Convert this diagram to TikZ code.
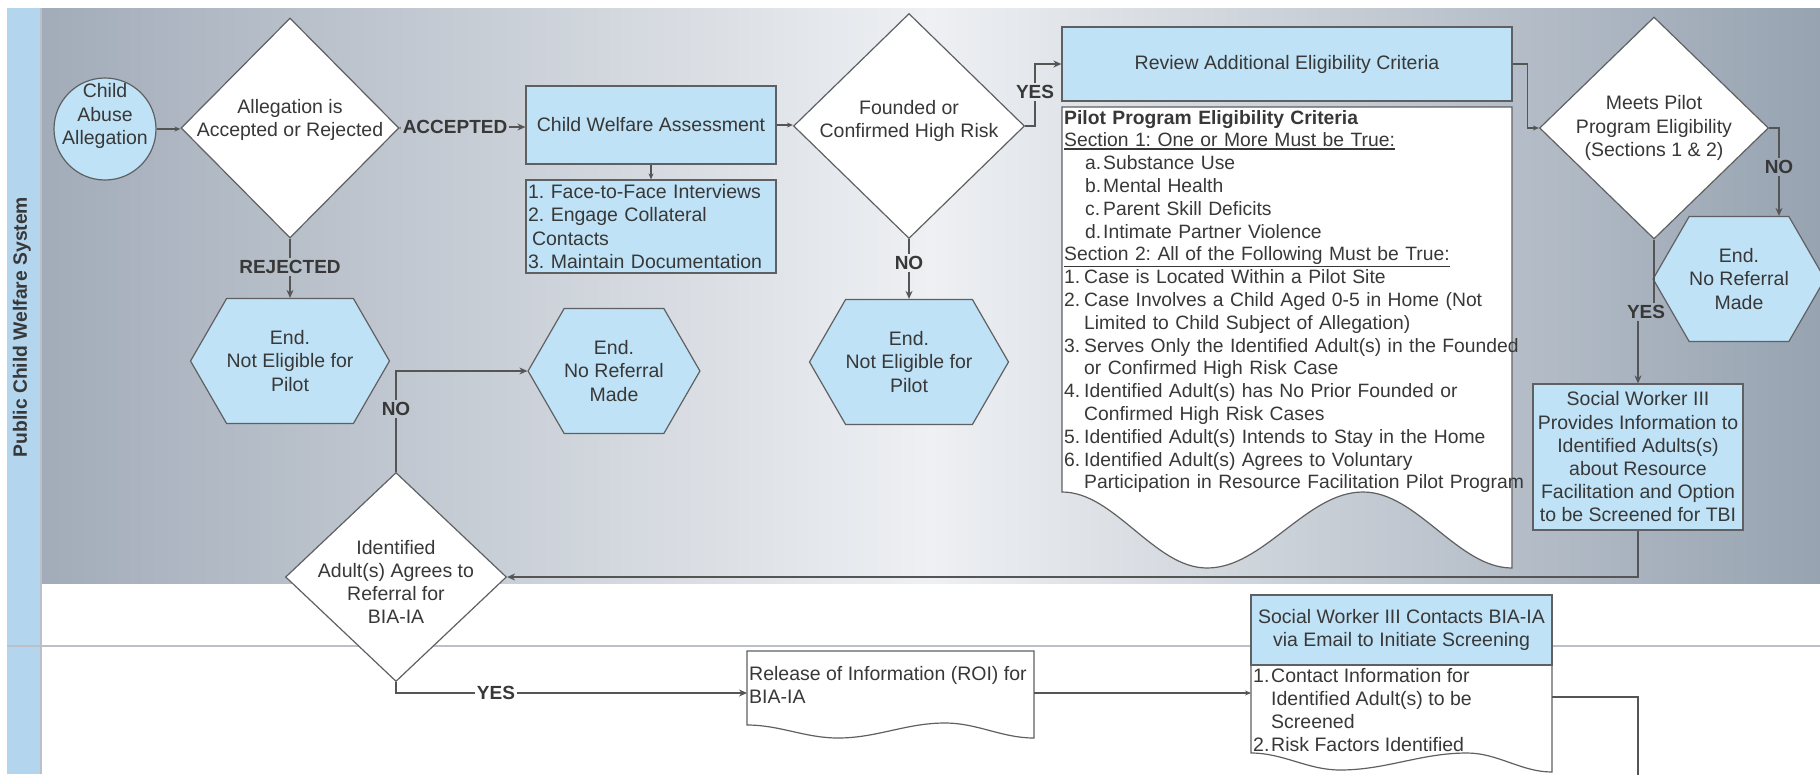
\documentclass[tikz,border=0pt]{standalone}
\usepackage{fontspec}
\setmainfont{Liberation Sans}
\usetikzlibrary{shapes.geometric,shapes.symbols,arrows.meta}
\definecolor{nodeblue}{HTML}{BFE2F6}
\definecolor{laneblue}{HTML}{B3D5EE}
\definecolor{bordercol}{HTML}{5F6062}
\definecolor{linecol}{HTML}{555555}
\definecolor{textcol}{HTML}{383838}
\definecolor{gradL}{HTML}{A2ACB9}
\definecolor{gradM}{HTML}{EEF0F3}
\definecolor{gradR}{HTML}{97A3B1}
\definecolor{divcol}{HTML}{BCC0C6}
\newcommand\txtfont{\fontsize{19.5}{23.2}\selectfont}
\newcommand\crfont{\fontsize{19.3}{22.8}\selectfont}
\newcommand\lblfont{\bfseries\fontsize{19}{23}\selectfont}
\newcommand\thickul[1]{\underline{#1}\llap{\rule[-3.2pt]{\widthof{#1}}{1.4pt}}}
\usepackage{calc}
\frenchspacing
\begin{document}
\begin{tikzpicture}[x=1pt,y=-1pt,
  every node/.style={text=textcol},
  box/.style={rectangle, draw=bordercol, fill=nodeblue, line width=1.2pt, inner sep=0pt, font=\txtfont, align=center},
  hexa/.style={signal, signal to=east and west, signal pointer angle=120, minimum width=154pt, minimum height=125pt, inner sep=0pt, draw=bordercol, fill=nodeblue, line width=1.2pt, align=center, font=\txtfont},
  diam/.style={diamond, draw=bordercol, fill=white, line width=1.2pt, inner sep=0pt},
  dtext/.style={font=\txtfont, align=center, inner sep=0pt},
  elabel/.style={font=\lblfont, inner sep=2pt},
  conn/.style={draw=linecol, line width=2.4pt},
  mconn/.style={draw=linecol, line width=1.9pt},
  tconn/.style={draw=linecol, line width=1.3pt},
  arr/.style={-{Stealth[length=8pt,width=7pt]}},
  tarr/.style={-{Stealth[length=6pt,width=5pt]}},
  doc/.style={draw=bordercol, fill=white, line width=1.2pt},
  ghost/.style={inner sep=0pt, outer sep=0pt}
]
\useasboundingbox (0,0) rectangle (1820,774);
% background and lanes
\fill[white] (0,0) rectangle (1820,774);
\shade[left color=gradL, right color=gradR, middle color=gradM] (42,8) rectangle (1820,583);
\fill[laneblue] (7,8) rectangle (40,774);
\draw[divcol, line width=2pt] (41,8) -- (41,774);
\draw[divcol, line width=2pt] (7,646) -- (1820,646);
\node[rotate=90, font=\bfseries\fontsize{19.3}{23}\selectfont] (lane1) at (22,327) {Public Child Welfare System};

% documents (outlines)
\draw[doc] (1062,107) -- (1512,107) -- (1512,568) cos (1437.5,530) sin (1363,492) cos (1285,530) sin (1207,568) cos (1134.5,530) sin (1062,492) -- cycle;
\node[ghost, minimum width=287pt, minimum height=84pt] (roi) at (890.5,693) {};
\draw[doc] (roi.north west) -- (roi.north east) -- (1034,738) cos (989.5,730.5) sin (945,723) cos (891.5,730.5) sin (838,738) cos (792.5,731.5) sin (747,725) -- cycle;
\node[ghost, minimum width=301pt, minimum height=64pt] (sw2doc) at (1401.5,697) {};
\draw[doc] (1251,665) -- (1552,665) -- (1552,772) cos (1509.5,762.5) sin (1467,753) cos (1403.5,761.5) sin (1340,770) cos (1295.5,761.5) sin (1251,753) -- cycle;

% nodes
\node[circle, draw=bordercol, fill=nodeblue, line width=1.2pt, minimum size=102pt, inner sep=0pt] (start) at (105,129) {};
\node[dtext] (startt) at (105,116) {Child\\Abuse\\Allegation};

\node[diam, minimum width=218pt, minimum height=220pt] (d1) at (290,128) {};
\node[dtext] (d1t) at (290,120) {Allegation is\\Accepted or Rejected};
\node[elabel] (rej) at (290,267) {REJECTED};
\node[hexa] (hex1) at (290,361) {End.\\Not Eligible for\\Pilot};
\node[elabel] (acc) at (455,127) {ACCEPTED};

\node[box, minimum width=250pt, minimum height=78pt] (cwa) at (651,125) {Child Welfare Assessment};
\node[box, minimum width=250pt, minimum height=93pt, text width=246pt, align=left] (cwasub) at (651,226.5) {1. Face-to-Face Interviews\\2. Engage Collateral\\\hspace*{4pt}Contacts\\3. Maintain Documentation};

\node[diam, minimum width=231pt, minimum height=225pt] (d2) at (909,126) {};
\node[dtext] (d2t) at (909,121) {Founded or\\Confirmed High Risk};
\node[elabel] (no2) at (909,263) {NO};
\node[hexa] (hex2) at (909,362) {End.\\Not Eligible for\\Pilot};
\node[elabel] (yes2) at (1035,92) {YES};

\node[box, minimum width=450pt, minimum height=74pt] (review) at (1287,64) {Review Additional Eligibility Criteria};
\node[font=\crfont, align=left, anchor=north west, inner sep=0pt, text width=480pt] (crit) at (1064,110) {%
\textbf{Pilot Program Eligibility Criteria}\\
\thickul{Section 1: One or More Must be True:}\\
\hspace*{21pt}\makebox[18pt][l]{a.}Substance Use\\
\hspace*{21pt}\makebox[18pt][l]{b.}Mental Health\\
\hspace*{21pt}\makebox[18pt][l]{c.}Parent Skill Deficits\\
\hspace*{21pt}\makebox[18pt][l]{d.}Intimate Partner Violence\\
\underline{Section 2: All of the Following Must be True:}\\
\makebox[20pt][l]{1.}Case is Located Within a Pilot Site\\
\makebox[20pt][l]{2.}Case Involves a Child Aged 0-5 in Home (Not\\
\hspace*{20pt}Limited to Child Subject of Allegation)\\
\makebox[20pt][l]{3.}Serves Only the Identified Adult(s) in the Founded\\
\hspace*{20pt}or Confirmed High Risk Case\\
\makebox[20pt][l]{4.}Identified Adult(s) has No Prior Founded or\\
\hspace*{20pt}Confirmed High Risk Cases\\
\makebox[20pt][l]{5.}Identified Adult(s) Intends to Stay in the Home\\
\makebox[20pt][l]{6.}Identified Adult(s) Agrees to Voluntary\\
\hspace*{20pt}Participation in Resource Facilitation Pilot Program};

\node[diam, minimum width=229pt, minimum height=222pt] (d4) at (1654,128) {};
\node[dtext] (d4t) at (1654,128) {Meets Pilot\\Program Eligibility\\(Sections 1 \& 2)};
\node[elabel] (no4) at (1779,167) {NO};
\node[hexa] (hex4) at (1739,279) {End.\\No Referral\\Made};
\node[elabel] (yes4) at (1646,312) {YES};
\node[box, minimum width=210pt, minimum height=146pt] (sw) at (1638,457) {Social Worker III\\Provides Information to\\Identified Adults(s)\\about Resource\\Facilitation and Option\\to be Screened for TBI};

\node[hexa] (hex3) at (614,371) {End.\\No Referral\\Made};
\node[diam, minimum width=221pt, minimum height=209pt] (d3) at (396,577) {};
\node[dtext] (d3t) at (396,582) {Identified\\Adult(s) Agrees to\\Referral for\\BIA-IA};
\node[elabel] (no3) at (396,409) {NO};
\node[elabel] (yes3) at (496,693) {YES};

\node[font=\txtfont, align=left, anchor=north west, inner sep=0pt] (roit) at (749,666) {Release of Information (ROI) for\\BIA-IA};
\node[box, minimum width=301pt, minimum height=70pt] (sw2) at (1401.5,630) {Social Worker III Contacts BIA-IA\\via Email to Initiate Screening};
\node[font=\txtfont, align=left, anchor=north west, inner sep=0pt] (sw2t) at (1253,668) {\makebox[18pt][l]{1.}Contact Information for\\\hspace*{18pt}Identified Adult(s) to be\\\hspace*{18pt}Screened\\\makebox[18pt][l]{2.}Risk Factors Identified};
\coordinate (offB) at (1638,790);

% connectors
\draw[tconn, tarr] (start) -- (start -| d1.west);
\draw[conn] (d1.south) -- (rej);
\draw[conn, arr] (rej) -- (hex1.north);
\draw[conn] (d1.east) -- (acc);
\draw[conn, arr] (acc) -- (acc -| cwa.west);
\draw[tconn, tarr] (cwa.south) -- (cwasub.north);
\draw[tconn, tarr] (cwa.east) -- (cwa.east -| d2.west);
\draw[conn] (d2.south) -- (no2);
\draw[conn, arr] (no2) -- (hex2.north);
\draw[conn] (d2.east) -| (yes2);
\draw[conn, arr] (yes2) |- (review.west);
\draw[tconn, tarr] (review.east) -- ++(15,0) |- (d4.west);
\draw[conn] (d4.east) -| (no4);
\draw[conn, arr] (no4) -- (no4 |- hex4.north);
\draw[conn] (d4.south) -- (d4.south |- yes4.north);
\draw[conn, arr] (sw.north |- yes4.south) -- (sw.north);
\draw[mconn, arr] (sw.south) |- (d3.east);
\draw[conn] (d3.north) -- (no3);
\draw[conn, arr] (no3) |- (hex3.west);
\draw[conn] (d3.south) |- (yes3);
\draw[conn, arr] (yes3) -- (yes3 -| roi.west);
\draw[tconn, tarr] (roi.east) -- (roi.east -| sw2doc.west);
\draw[conn] (sw2doc.east) -| (offB);
\end{tikzpicture}
\end{document}
